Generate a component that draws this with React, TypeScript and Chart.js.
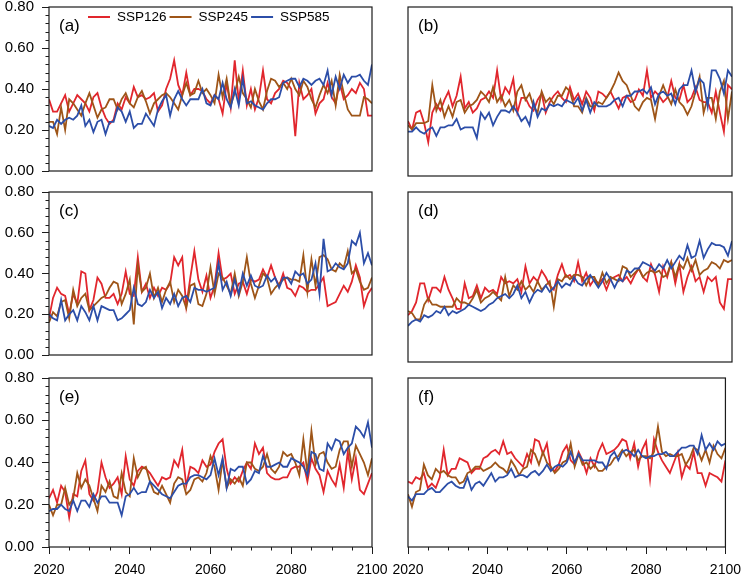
import { useEffect, useRef } from "react";
import Chart from "chart.js/auto";

// x categories and tick labels
const years = Array.from({ length: 81 }, (_, i) => 2020 + i);
const xTicks = [2020, 2040, 2060, 2080, 2100];
const yTicks = [0, 0.2, 0.4, 0.6, 0.8];

const seriesNames = ["SSP126", "SSP245", "SSP585"];
const seriesColors = ["#e1262d", "#9e5518", "#2c4ea8"];

// (a)
const a126 = [
  0.35, 0.29, 0.29, 0.33, 0.37, 0.29, 0.33, 0.37, 0.35, 0.33,
  0.29, 0.36, 0.38, 0.31, 0.26, 0.23, 0.25, 0.33, 0.30, 0.36,
  0.33, 0.41, 0.36, 0.37, 0.35, 0.36, 0.38, 0.29, 0.32, 0.40,
  0.45, 0.54, 0.42, 0.37, 0.48, 0.37, 0.40, 0.40, 0.39, 0.35,
  0.33, 0.37, 0.35, 0.28, 0.43, 0.31, 0.54, 0.34, 0.49, 0.32,
  0.40, 0.30, 0.36, 0.49, 0.35, 0.33, 0.38, 0.40, 0.44, 0.43,
  0.40, 0.17, 0.43, 0.35, 0.37, 0.40, 0.28, 0.33, 0.35, 0.43,
  0.36, 0.33, 0.43, 0.35, 0.37, 0.40, 0.38, 0.43, 0.40, 0.27,
  0.27,
];
const a245 = [
  0.24, 0.24, 0.18, 0.31, 0.20, 0.35, 0.33, 0.30, 0.27, 0.33,
  0.38, 0.32, 0.26, 0.30, 0.31, 0.35, 0.35, 0.30, 0.35, 0.38,
  0.33, 0.31, 0.36, 0.39, 0.34, 0.28, 0.33, 0.35, 0.37, 0.38,
  0.36, 0.33, 0.30, 0.37, 0.43, 0.37, 0.38, 0.44, 0.38, 0.40,
  0.37, 0.33, 0.47, 0.36, 0.45, 0.32, 0.38, 0.46, 0.38, 0.35,
  0.31, 0.40, 0.34, 0.30, 0.39, 0.45, 0.44, 0.41, 0.43, 0.40,
  0.45, 0.40, 0.37, 0.44, 0.41, 0.35, 0.31, 0.37, 0.42, 0.38,
  0.44, 0.32, 0.47, 0.38, 0.30, 0.27, 0.27, 0.27, 0.36, 0.35,
  0.33,
];
const a585 = [
  0.22, 0.21, 0.25, 0.23, 0.25, 0.26, 0.25, 0.27, 0.32, 0.22,
  0.25, 0.19, 0.24, 0.25, 0.18, 0.24, 0.24, 0.31, 0.29, 0.24,
  0.29, 0.21, 0.23, 0.23, 0.28, 0.25, 0.22, 0.30, 0.34, 0.37,
  0.27, 0.35, 0.39, 0.35, 0.32, 0.35, 0.35, 0.35, 0.40, 0.33,
  0.32, 0.37, 0.35, 0.43, 0.35, 0.31, 0.40, 0.32, 0.45, 0.33,
  0.34, 0.32, 0.31, 0.30, 0.33, 0.35, 0.35, 0.36, 0.43, 0.44,
  0.45, 0.45, 0.41, 0.45, 0.44, 0.42, 0.44, 0.45, 0.42, 0.49,
  0.37, 0.46, 0.40, 0.47, 0.43, 0.46, 0.46, 0.47, 0.44, 0.42,
  0.52,
];

// (b)
const b126 = [
  0.26, 0.22, 0.30, 0.31, 0.25, 0.16, 0.30, 0.34, 0.31, 0.36,
  0.40, 0.33, 0.38, 0.47, 0.32, 0.35, 0.30, 0.32, 0.36, 0.37,
  0.40, 0.37, 0.50, 0.36, 0.42, 0.39, 0.46, 0.30, 0.37, 0.37,
  0.33, 0.31, 0.36, 0.39, 0.30, 0.35, 0.38, 0.40, 0.37, 0.35,
  0.42, 0.36, 0.39, 0.34, 0.40, 0.37, 0.31, 0.40, 0.39, 0.37,
  0.40, 0.36, 0.32, 0.37, 0.38, 0.35, 0.36, 0.41, 0.38, 0.50,
  0.37, 0.40, 0.38, 0.35, 0.37, 0.45, 0.37, 0.36, 0.43, 0.35,
  0.37, 0.42, 0.36, 0.35, 0.35, 0.30, 0.40, 0.30, 0.21, 0.43,
  0.41,
];
const b245 = [
  0.24, 0.22, 0.25, 0.25, 0.25, 0.26, 0.43, 0.31, 0.36, 0.28,
  0.33, 0.28, 0.35, 0.36, 0.30, 0.33, 0.34, 0.36, 0.40, 0.38,
  0.35, 0.42, 0.35, 0.38, 0.33, 0.36, 0.31, 0.40, 0.43, 0.36,
  0.39, 0.33, 0.30, 0.40, 0.35, 0.37, 0.34, 0.38, 0.38, 0.42,
  0.40, 0.33, 0.33, 0.30, 0.37, 0.33, 0.33, 0.35, 0.34, 0.37,
  0.40, 0.44, 0.49, 0.45, 0.43, 0.38, 0.33, 0.31, 0.35, 0.37,
  0.36, 0.27, 0.38, 0.43, 0.38, 0.34, 0.41, 0.35, 0.33, 0.29,
  0.33, 0.40, 0.47, 0.30, 0.37, 0.37, 0.27, 0.40, 0.45, 0.27,
  0.40,
];
const b585 = [
  0.21, 0.21, 0.23, 0.21, 0.20, 0.22, 0.23, 0.19, 0.23, 0.23,
  0.24, 0.24, 0.27, 0.22, 0.23, 0.23, 0.23, 0.18, 0.30, 0.27,
  0.30, 0.24, 0.28, 0.31, 0.31, 0.30, 0.33, 0.30, 0.26, 0.28,
  0.24, 0.35, 0.28, 0.32, 0.31, 0.34, 0.33, 0.34, 0.33, 0.36,
  0.35, 0.34, 0.37, 0.31, 0.36, 0.30, 0.35, 0.33, 0.33, 0.33,
  0.34, 0.36, 0.37, 0.33, 0.38, 0.38, 0.40, 0.40, 0.41, 0.39,
  0.42, 0.34, 0.39, 0.40, 0.38, 0.39, 0.34, 0.41, 0.43, 0.43,
  0.50, 0.40, 0.46, 0.44, 0.33, 0.50, 0.50, 0.46, 0.39, 0.50,
  0.47,
];

// (c)
const c126 = [
  0.18, 0.28, 0.33, 0.30, 0.29, 0.20, 0.30, 0.25, 0.41, 0.40,
  0.22, 0.27, 0.38, 0.35, 0.28, 0.28, 0.30, 0.25, 0.30, 0.41,
  0.30, 0.29, 0.48, 0.31, 0.35, 0.28, 0.33, 0.29, 0.33, 0.32,
  0.35, 0.48, 0.44, 0.48, 0.24, 0.38, 0.51, 0.37, 0.31, 0.39,
  0.28, 0.34, 0.50, 0.37, 0.38, 0.40, 0.30, 0.35, 0.36, 0.30,
  0.37, 0.36, 0.37, 0.42, 0.38, 0.44, 0.38, 0.34, 0.40, 0.33,
  0.32, 0.29, 0.34, 0.33, 0.31, 0.32, 0.32, 0.35, 0.38, 0.24,
  0.25, 0.26, 0.30, 0.34, 0.31, 0.36, 0.44, 0.38, 0.24, 0.30,
  0.33,
];
const c245 = [
  0.16, 0.21, 0.19, 0.26, 0.27, 0.18, 0.32, 0.24, 0.28, 0.30,
  0.22, 0.24, 0.26, 0.28, 0.29, 0.33, 0.36, 0.35, 0.25, 0.30,
  0.37, 0.15, 0.44, 0.31, 0.33, 0.40, 0.28, 0.33, 0.26, 0.32,
  0.36, 0.26, 0.32, 0.29, 0.23, 0.34, 0.35, 0.25, 0.24, 0.30,
  0.43, 0.30, 0.40, 0.38, 0.34, 0.30, 0.40, 0.29, 0.36, 0.48,
  0.35, 0.28, 0.34, 0.40, 0.38, 0.30, 0.33, 0.35, 0.37, 0.38,
  0.37, 0.37, 0.36, 0.49, 0.31, 0.47, 0.34, 0.48, 0.49, 0.47,
  0.42, 0.41, 0.45, 0.43, 0.51, 0.40, 0.42, 0.36, 0.32, 0.33,
  0.38,
];
const c585 = [
  0.20, 0.18, 0.17, 0.27, 0.17, 0.20, 0.22, 0.17, 0.24, 0.21,
  0.17, 0.24, 0.17, 0.24, 0.23, 0.22, 0.22, 0.17, 0.18, 0.20,
  0.22, 0.33, 0.25, 0.24, 0.26, 0.32, 0.28, 0.31, 0.23, 0.28,
  0.25, 0.30, 0.24, 0.28, 0.29, 0.26, 0.33, 0.32, 0.32, 0.31,
  0.32, 0.33, 0.45, 0.32, 0.36, 0.29, 0.37, 0.30, 0.40, 0.34,
  0.39, 0.34, 0.33, 0.34, 0.39, 0.36, 0.38, 0.33, 0.38, 0.38,
  0.35, 0.41, 0.39, 0.40, 0.35, 0.37, 0.45, 0.30, 0.57, 0.41,
  0.42, 0.45, 0.43, 0.42, 0.45, 0.56, 0.54, 0.60, 0.45, 0.50,
  0.44,
];

// (d)
const d126 = [
  0.22, 0.24, 0.28, 0.37, 0.37, 0.29, 0.35, 0.35, 0.33, 0.40,
  0.34, 0.30, 0.25, 0.25, 0.37, 0.30, 0.31, 0.36, 0.30, 0.35,
  0.33, 0.34, 0.32, 0.40, 0.37, 0.38, 0.37, 0.39, 0.33, 0.45,
  0.37, 0.40, 0.38, 0.43, 0.40, 0.36, 0.34, 0.41, 0.46, 0.40,
  0.41, 0.38, 0.47, 0.38, 0.42, 0.36, 0.39, 0.37, 0.39, 0.34,
  0.39, 0.40, 0.41, 0.38, 0.40, 0.37, 0.41, 0.44, 0.40, 0.38,
  0.46, 0.41, 0.33, 0.45, 0.40, 0.47, 0.37, 0.46, 0.33, 0.40,
  0.45, 0.38, 0.40, 0.33, 0.40, 0.38, 0.40, 0.28, 0.25, 0.39,
  0.39,
];
const d245 = [
  0.24, 0.23, 0.20, 0.20, 0.27, 0.30, 0.27, 0.27, 0.26, 0.26,
  0.26, 0.26, 0.30, 0.28, 0.28, 0.27, 0.30, 0.34, 0.28, 0.30,
  0.31, 0.33, 0.31, 0.29, 0.40, 0.31, 0.36, 0.34, 0.38, 0.34,
  0.36, 0.33, 0.38, 0.34, 0.36, 0.38, 0.26, 0.39, 0.38, 0.41,
  0.39, 0.41, 0.41, 0.40, 0.36, 0.40, 0.40, 0.36, 0.42, 0.37,
  0.40, 0.39, 0.38, 0.45, 0.44, 0.40, 0.42, 0.44, 0.40, 0.42,
  0.43, 0.42, 0.43, 0.40, 0.41, 0.47, 0.40, 0.46, 0.44, 0.49,
  0.43, 0.48, 0.41, 0.43, 0.44, 0.47, 0.46, 0.44, 0.48, 0.47,
  0.48,
];
const d585 = [
  0.17, 0.19, 0.20, 0.19, 0.22, 0.21, 0.22, 0.24, 0.23, 0.26,
  0.22, 0.24, 0.23, 0.24, 0.25, 0.27, 0.26, 0.25, 0.24, 0.25,
  0.27, 0.28, 0.30, 0.31, 0.32, 0.30, 0.32, 0.36, 0.30, 0.33,
  0.28, 0.32, 0.34, 0.33, 0.36, 0.33, 0.35, 0.38, 0.35, 0.37,
  0.36, 0.40, 0.37, 0.36, 0.39, 0.41, 0.38, 0.35, 0.38, 0.42,
  0.39, 0.35, 0.39, 0.38, 0.43, 0.42, 0.44, 0.44, 0.47, 0.46,
  0.45, 0.43, 0.46, 0.44, 0.48, 0.44, 0.47, 0.50, 0.48, 0.55,
  0.49, 0.50, 0.57, 0.49, 0.53, 0.56, 0.55, 0.55, 0.54, 0.50,
  0.57,
];

// (e)
const e126 = [
  0.23, 0.27, 0.21, 0.29, 0.26, 0.14, 0.25, 0.24, 0.36, 0.41,
  0.25, 0.22, 0.26, 0.40, 0.33, 0.28, 0.30, 0.33, 0.25, 0.43,
  0.32, 0.29, 0.36, 0.38, 0.37, 0.35, 0.32, 0.29, 0.33, 0.32,
  0.33, 0.41, 0.38, 0.46, 0.29, 0.38, 0.37, 0.35, 0.41, 0.38,
  0.39, 0.45, 0.49, 0.51, 0.37, 0.30, 0.33, 0.31, 0.36, 0.40,
  0.37, 0.49, 0.44, 0.47, 0.35, 0.33, 0.32, 0.32, 0.33, 0.33,
  0.37, 0.38, 0.38, 0.40, 0.31, 0.42, 0.37, 0.34, 0.26, 0.36,
  0.32, 0.29, 0.39, 0.28, 0.45, 0.32, 0.42, 0.27, 0.25, 0.30,
  0.35,
];
const e245 = [
  0.20, 0.15, 0.20, 0.20, 0.28, 0.20, 0.23, 0.35, 0.28, 0.32,
  0.29, 0.23, 0.17, 0.29, 0.26, 0.31, 0.24, 0.23, 0.35, 0.26,
  0.24, 0.42, 0.33, 0.37, 0.38, 0.31, 0.26, 0.25, 0.29, 0.25,
  0.21, 0.30, 0.33, 0.32, 0.25, 0.27, 0.32, 0.33, 0.31, 0.35,
  0.43, 0.38, 0.27, 0.41, 0.28, 0.32, 0.30, 0.33, 0.29, 0.40,
  0.40, 0.37, 0.36, 0.38, 0.44, 0.37, 0.35, 0.38, 0.45, 0.43,
  0.44, 0.40, 0.34, 0.51, 0.35, 0.55, 0.39, 0.44, 0.45, 0.40,
  0.37, 0.38, 0.46, 0.50, 0.50, 0.38, 0.48, 0.44, 0.40, 0.34,
  0.42,
];
const e585 = [
  0.17, 0.18, 0.18, 0.20, 0.18, 0.17, 0.22, 0.17, 0.22, 0.22,
  0.19, 0.25, 0.21, 0.24, 0.24, 0.21, 0.21, 0.21, 0.15, 0.24,
  0.25, 0.28, 0.25, 0.26, 0.26, 0.31, 0.29, 0.27, 0.25, 0.24,
  0.23, 0.26, 0.29, 0.30, 0.30, 0.33, 0.34, 0.34, 0.33, 0.32,
  0.34, 0.42, 0.34, 0.42, 0.28, 0.37, 0.36, 0.38, 0.38, 0.30,
  0.32, 0.36, 0.35, 0.43, 0.38, 0.38, 0.39, 0.40, 0.38, 0.38,
  0.42, 0.41, 0.40, 0.38, 0.34, 0.45, 0.44, 0.37, 0.36, 0.49,
  0.46, 0.51, 0.50, 0.44, 0.47, 0.49, 0.57, 0.55, 0.52, 0.59,
  0.47,
];

// (f)
const f126 = [
  0.31, 0.30, 0.33, 0.32, 0.35, 0.28, 0.30, 0.28, 0.33, 0.46,
  0.34, 0.37, 0.37, 0.42, 0.41, 0.40, 0.35, 0.37, 0.37, 0.42,
  0.43, 0.45, 0.46, 0.44, 0.50, 0.44, 0.45, 0.42, 0.40, 0.38,
  0.44, 0.40, 0.51, 0.50, 0.44, 0.49, 0.37, 0.36, 0.39, 0.45,
  0.48, 0.41, 0.39, 0.45, 0.41, 0.35, 0.42, 0.38, 0.45, 0.49,
  0.44, 0.45, 0.46, 0.48, 0.51, 0.50, 0.42, 0.49, 0.38, 0.46,
  0.50, 0.32, 0.51, 0.45, 0.41, 0.38, 0.35, 0.40, 0.45, 0.33,
  0.39, 0.37, 0.45, 0.35, 0.35, 0.29, 0.35, 0.34, 0.33, 0.31,
  0.41,
];
const f245 = [
  0.25, 0.19, 0.26, 0.27, 0.39, 0.34, 0.32, 0.37, 0.35, 0.36,
  0.34, 0.33, 0.33, 0.30, 0.31, 0.35, 0.36, 0.38, 0.38, 0.36,
  0.37, 0.38, 0.40, 0.38, 0.37, 0.35, 0.41, 0.38, 0.34, 0.37,
  0.38, 0.46, 0.44, 0.39, 0.45, 0.40, 0.38, 0.35, 0.37, 0.40,
  0.41, 0.49, 0.38, 0.44, 0.39, 0.40, 0.37, 0.39, 0.36, 0.36,
  0.38, 0.39, 0.42, 0.43, 0.46, 0.43, 0.45, 0.46, 0.41, 0.43,
  0.43, 0.42, 0.45, 0.57, 0.45, 0.43, 0.44, 0.43, 0.43, 0.44,
  0.39, 0.42, 0.47, 0.46, 0.41, 0.46, 0.40, 0.48, 0.44, 0.42,
  0.47,
];
const f585 = [
  0.24, 0.22, 0.25, 0.25, 0.25, 0.27, 0.28, 0.26, 0.26, 0.28,
  0.30, 0.31, 0.29, 0.28, 0.28, 0.33, 0.27, 0.30, 0.31, 0.29,
  0.32, 0.35, 0.31, 0.33, 0.33, 0.34, 0.37, 0.33, 0.34, 0.34,
  0.33, 0.35, 0.36, 0.34, 0.36, 0.39, 0.36, 0.38, 0.39, 0.38,
  0.40, 0.45, 0.40, 0.44, 0.41, 0.41, 0.41, 0.41, 0.40, 0.40,
  0.37, 0.43, 0.45, 0.41, 0.45, 0.46, 0.45, 0.43, 0.46, 0.43,
  0.42, 0.43, 0.43, 0.44, 0.44, 0.45, 0.43, 0.43, 0.45, 0.47,
  0.47, 0.48, 0.48, 0.44, 0.53, 0.46, 0.49, 0.46, 0.50, 0.48,
  0.49,
];

const panels = [
  { tag: "(a)", col: 0, row: 0, series: [a126, a245, a585], legend: true },
  { tag: "(b)", col: 1, row: 0, series: [b126, b245, b585], legend: false },
  { tag: "(c)", col: 0, row: 1, series: [c126, c245, c585], legend: false },
  { tag: "(d)", col: 1, row: 1, series: [d126, d245, d585], legend: false },
  { tag: "(e)", col: 0, row: 2, series: [e126, e245, e585], legend: false },
  { tag: "(f)", col: 1, row: 2, series: [f126, f245, f585], legend: false },
];

// canvas boxes (page px) and the plot rectangle wanted inside each
const COLS = [
  { left: 0, width: 400, plotLeft: 49, plotRight: 372 },
  { left: 375, width: 374, plotLeft: 408, plotRight: 732 },
];
const ROWS = [
  { top: -12, height: 200, plotTop: 7, plotBottom: 176 },
  { top: 172, height: 200, plotTop: 192, plotBottom: 362 },
  { top: 358, height: 219, plotTop: 378, plotBottom: 547 },
];

const FONT = "'Liberation Sans', Arial, Helvetica, sans-serif";
const INK = "#1c1c1c";

const decorPlugin = {
  id: "panelDecor",
  afterDraw(chart: any, _args: any, opts: any) {
    const { ctx, chartArea } = chart;
    const { left, right, top, bottom } = chartArea;
    const y = chart.scales.y;
    const x = chart.scales.x;
    ctx.save();

    // frame
    ctx.strokeStyle = INK;
    ctx.lineWidth = 1.2;
    ctx.strokeRect(left, top, right - left, bottom - top);

    // minor ticks
    ctx.lineWidth = 1;
    ctx.beginPath();
    if (opts.yAxis) {
      for (let k = 1; k < 20; k++) {
        if (k % 5 === 0) continue;
        const py = Math.round(y.getPixelForValue(k * 0.04)) + 0.5;
        ctx.moveTo(left - 3.5, py);
        ctx.lineTo(left, py);
      }
    }
    if (opts.xAxis) {
      for (let yr = 2025; yr < 2100; yr += 5) {
        if (yr % 20 === 0) continue;
        const px = Math.round(x.getPixelForValue(yr)) + 0.5;
        ctx.moveTo(px, bottom);
        ctx.lineTo(px, bottom + 3.5);
      }
    }
    ctx.stroke();

    // panel tag
    ctx.fillStyle = "#000";
    ctx.font = `17px ${FONT}`;
    ctx.textBaseline = "middle";
    ctx.textAlign = "left";
    ctx.fillText(opts.tag, left + 10, top + 19);

    // legend
    if (opts.legend) {
      ctx.font = `13.5px ${FONT}`;
      let lx = left + 39;
      const ly = top + 10;
      seriesNames.forEach((name, i) => {
        ctx.strokeStyle = seriesColors[i];
        ctx.lineWidth = 2;
        ctx.beginPath();
        ctx.moveTo(lx, ly);
        ctx.lineTo(lx + 22, ly);
        ctx.stroke();
        ctx.fillStyle = "#000";
        ctx.fillText(name, lx + 29, ly + 0.5);
        lx += 29 + ctx.measureText(name).width + 3;
      });
    }
    ctx.restore();
  },
};

type Pad = { left: number; right: number; top: number; bottom: number };

function Panel({ spec }: { spec: (typeof panels)[number] }) {
  const canvasRef = useRef<HTMLCanvasElement>(null);
  const col = COLS[spec.col];
  const row = ROWS[spec.row];
  const showY = spec.col === 0;
  const showX = spec.row === 2;

  useEffect(() => {
    const canvas = canvasRef.current;
    if (!canvas) return;

    const want = {
      left: col.plotLeft - col.left,
      right: col.plotRight - col.left,
      top: row.plotTop - row.top,
      bottom: row.plotBottom - row.top,
    };
    const pad: Pad = {
      left: showY ? want.left - 49 : want.left,
      right: col.width - want.right,
      top: want.top,
      bottom: showX ? row.height - want.bottom - 30 : row.height - want.bottom,
    };

    const build = (p: Pad) =>
      new Chart(canvas, {
        type: "line",
        data: {
          datasets: spec.series.map((vals, i) => ({
            label: seriesNames[i],
            data: vals.map((v, j) => ({ x: years[j], y: v })),
            borderColor: seriesColors[i],
            borderWidth: 1.8,
            pointRadius: 0,
            tension: 0,
            fill: false,
            order: 2 - i,
          })),
        },
        options: {
          responsive: false,
          animation: false,
          layout: { autoPadding: false, padding: { ...p } },
          plugins: {
            legend: { display: false },
            tooltip: { enabled: false },
            panelDecor: { tag: spec.tag, legend: spec.legend, yAxis: showY, xAxis: showX },
          } as any,
          scales: {
            x: {
              type: "linear",
              min: 2020,
              max: 2100,
              display: showX,
              afterFit: showX
                ? (s: any) => {
                    s.height = 30;
                  }
                : undefined,
              afterBuildTicks: (s: any) => {
                s.ticks = xTicks.map((v) => ({ value: v }));
              },
              ticks: {
                display: showX,
                callback: (v: any) => String(v),
                color: "#000",
                font: { family: FONT, size: 14 },
                padding: 8,
                maxRotation: 0,
                autoSkip: false,
              },
              grid: {
                drawOnChartArea: false,
                drawTicks: showX,
                tickLength: 7,
                tickColor: INK,
                tickWidth: 1,
              },
              border: { display: false },
            },
            y: {
              type: "linear",
              min: 0,
              max: 0.8,
              display: showY,
              afterFit: showY
                ? (s: any) => {
                    s.width = 49;
                  }
                : undefined,
              afterBuildTicks: (s: any) => {
                s.ticks = yTicks.map((v) => ({ value: v }));
              },
              ticks: {
                display: showY,
                callback: (v: any) => Number(v).toFixed(2),
                color: "#000",
                font: { family: FONT, size: 15 },
                padding: 8,
                autoSkip: false,
              },
              grid: {
                drawOnChartArea: false,
                drawTicks: showY,
                tickLength: 7,
                tickColor: INK,
                tickWidth: 1,
              },
              border: { display: false },
            },
          },
        },
        plugins: [decorPlugin],
      });

    // rebuild with corrected padding until the plot area sits where it should
    let chart = build(pad);
    for (let k = 0; k < 3; k++) {
      const a = chart.chartArea;
      if (!a) break;
      const dl = want.left - a.left;
      const dr = a.right - want.right;
      const dt = want.top - a.top;
      const db = a.bottom - want.bottom;
      if (Math.abs(dl) + Math.abs(dr) + Math.abs(dt) + Math.abs(db) < 0.5) break;
      pad.left += dl;
      pad.right += dr;
      pad.top += dt;
      pad.bottom += db;
      chart.destroy();
      chart = build(pad);
    }

    return () => chart.destroy();
  }, [spec]);

  return (
    <canvas
      ref={canvasRef}
      width={col.width}
      height={row.height}
      style={{
        position: "absolute",
        left: col.left,
        top: row.top,
        width: col.width,
        height: row.height,
      }}
    />
  );
}

export default function App() {
  return (
    <div
      style={{
        position: "absolute",
        left: 0,
        top: 0,
        width: 749,
        height: 577,
        background: "#fff",
        overflow: "hidden",
      }}
    >
      {panels.map((p) => (
        <Panel key={p.tag} spec={p} />
      ))}
    </div>
  );
}
